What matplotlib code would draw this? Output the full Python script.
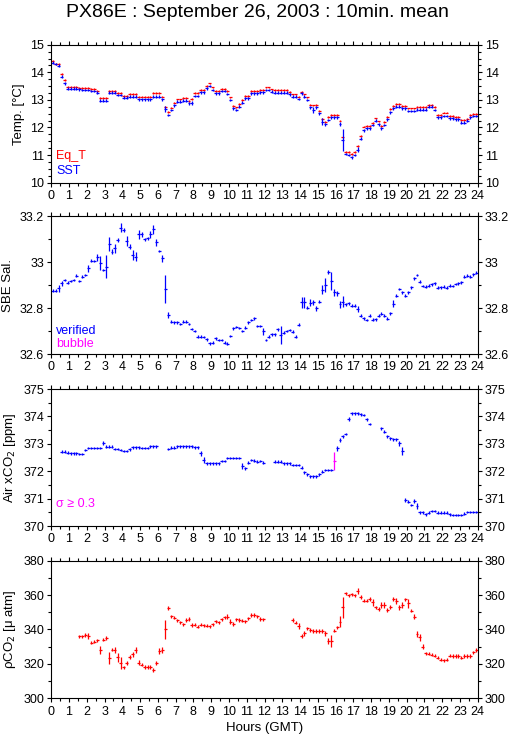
import numpy as np
import matplotlib
matplotlib.use('Agg')
import matplotlib.pyplot as plt
from matplotlib.ticker import MultipleLocator

plt.rcParams['font.family'] = ['Liberation Sans', 'DejaVu Sans']

nan = np.nan

# 10 minute bins, 6 per hour, 144 per day
sst = [
    14.35, 14.30, 14.24, 13.84, 13.60, 13.41,
    13.41, 13.41, 13.41, 13.38, 13.36, 13.36,
    13.36, 13.32, 13.32, 13.26, 12.97, 12.97,
    12.97, 13.26, 13.26, 13.26, 13.18, 13.18,
    13.08, 13.08, 13.12, 13.12, 13.12, 13.02,
    13.02, 13.02, 13.02, 13.02, 13.12, 13.12,
    13.12, 13.02, 12.67, 12.45, 12.63, 12.81,
    12.93, 12.93, 12.97, 12.97, 12.87, 12.90,
    13.14, 13.14, 13.27, 13.27, 13.42, 13.50,
    13.36, 13.24, 13.24, 13.32, 13.32, 13.21,
    13.00, 12.69, 12.63, 12.75, 12.90, 13.06,
    13.06, 13.24, 13.24, 13.24, 13.28, 13.28,
    13.36, 13.36, 13.30, 13.26, 13.26, 13.26,
    13.26, 13.26, 13.20, 13.12, 13.12, 13.03,
    13.24, 13.12, 13.00, 12.73, 12.63, 12.73,
    12.51, 12.21, 12.11, 12.27, 12.37, 12.37,
    12.37, 12.13, 11.55, 11.04, 11.00, 10.92,
    11.00, 11.20, 11.60, 11.90, 11.97, 11.97,
    12.09, 12.25, 12.11, 11.97, 12.09, 12.30,
    12.55, 12.69, 12.75, 12.75, 12.69, 12.69,
    12.60, 12.60, 12.60, 12.65, 12.65, 12.65,
    12.65, 12.75, 12.75, 12.63, 12.37, 12.37,
    12.42, 12.42, 12.33, 12.33, 12.30, 12.30,
    12.17, 12.17, 12.25, 12.37, 12.42, 12.42,
]
eq_t = [
    14.40, 14.31, 14.31, 13.95, 13.72, 13.48,
    13.48, 13.48, 13.48, 13.42, 13.42, 13.42,
    13.42, 13.39, 13.39, 13.33, 13.07, 13.07,
    13.07, 13.33, 13.33, 13.33, 13.26, 13.26,
    13.15, 13.15, 13.21, 13.21, 13.21, 13.12,
    13.12, 13.12, 13.12, 13.12, 13.24, 13.24,
    13.24, 13.12, 12.75, 12.55, 12.72, 12.90,
    13.02, 13.02, 13.06, 13.06, 12.97, 13.03,
    13.24, 13.24, 13.36, 13.36, 13.50, 13.60,
    13.45, 13.33, 13.33, 13.40, 13.40, 13.32,
    13.09, 12.79, 12.73, 12.85, 13.00, 13.15,
    13.15, 13.33, 13.33, 13.33, 13.36, 13.36,
    13.45, 13.45, 13.38, 13.36, 13.36, 13.36,
    13.36, 13.36, 13.28, 13.20, 13.20, 13.12,
    13.30, 13.20, 13.09, 12.83, 12.80, 12.82,
    12.61, 12.30, 12.20, 12.37, 12.45, 12.45,
    12.45, 12.25, 11.64, 11.12, 11.12, 11.04,
    11.10, 11.33, 11.70, 12.03, 12.06, 12.06,
    12.17, 12.33, 12.22, 12.06, 12.20, 12.38,
    12.66, 12.78, 12.85, 12.85, 12.78, 12.78,
    12.69, 12.69, 12.69, 12.75, 12.75, 12.75,
    12.75, 12.81, 12.81, 12.74, 12.45, 12.45,
    12.54, 12.54, 12.42, 12.42, 12.38, 12.38,
    12.27, 12.27, 12.32, 12.45, 12.50, 12.50,
]
sst_sd_big = {3: 0.05, 4: 0.06, 16: 0.05, 18: 0.05, 19: 0.04, 37: 0.05,
              38: 0.1, 40: 0.05, 46: 0.07, 47: 0.07, 53: 0.05, 60: 0.05,
              84: 0.06, 86: 0.05, 87: 0.06, 88: 0.1, 91: 0.12, 92: 0.06,
              97: 0.06, 98: 0.4, 103: 0.08, 104: 0.06, 109: 0.05,
              110: 0.07, 112: 0.05, 130: 0.06}

sal = [
    32.877, 32.877, 32.887, 32.909, 32.923, 32.912,
    32.919, 32.923, 32.942, 32.919, 32.938, 32.945,
    32.974, 33.007, 33.006, 33.022, 32.996, 32.967,
    32.981, 33.078, 33.046, 33.061, 33.097, 33.151,
    33.141, 33.093, 33.068, 33.032, 33.025, 33.122,
    33.122, 33.100, 33.104, 33.122, 33.143, 33.087,
    33.049, 33.017, 32.883, 32.771, 32.741, 32.739,
    32.739, 32.732, 32.742, 32.742, 32.732, 32.710,
    32.701, 32.677, 32.677, 32.675, 32.665, 32.648,
    32.650, 32.670, 32.662, 32.662, 32.651, 32.646,
    32.680, 32.713, 32.719, 32.714, 32.701, 32.716,
    32.739, 32.749, 32.757, 32.723, 32.723, 32.701,
    32.662, 32.677, 32.687, 32.687, 32.709, 32.684,
    32.694, 32.701, 32.706, 32.699, 32.677, 32.728,
    32.826, 32.826, 32.803, 32.825, 32.826, 32.800,
    32.829, 32.880, 32.901, 32.957, 32.919, 32.870,
    32.865, 32.817, 32.829, 32.817, 32.822, 32.812,
    32.812, 32.797, 32.767, 32.757, 32.749, 32.767,
    32.751, 32.752, 32.767, 32.777, 32.768, 32.754,
    32.778, 32.819, 32.855, 32.884, 32.870, 32.855,
    32.870, 32.891, 32.930, 32.945, 32.916, 32.897,
    32.894, 32.899, 32.904, 32.909, 32.890, 32.891,
    32.894, 32.890, 32.899, 32.897, 32.906, 32.909,
    32.913, 32.938, 32.942, 32.938, 32.948, 32.955,
]
sal_sd_big = {2: 0.015, 3: 0.01, 12: 0.015, 15: 0.015, 16: 0.03, 18: 0.05,
              19: 0.03, 20: 0.01, 21: 0.02, 22: 0.01, 23: 0.02, 24: 0.01,
              25: 0.02, 26: 0.01, 27: 0.02, 28: 0.02, 29: 0.02, 30: 0.01,
              33: 0.015, 34: 0.02, 35: 0.015, 37: 0.015, 38: 0.06,
              39: 0.015, 71: 0.015, 77: 0.04, 84: 0.025, 85: 0.025,
              87: 0.015, 88: 0.01, 89: 0.01, 91: 0.02, 92: 0.03, 93: 0.01,
              94: 0.04, 95: 0.015, 96: 0.01, 97: 0.015, 98: 0.025,
              103: 0.015, 115: 0.015}

xco2 = [
    nan, nan, nan, 372.71, 372.71, 372.68,
    372.65, 372.65, 372.65, 372.63, 372.63, 372.77,
    372.85, 372.85, 372.85, 372.85, 372.85, 373.02,
    372.90, 372.90, 372.90, 372.81, 372.81, 372.77,
    372.74, 372.74, 372.80, 372.87, 372.87, 372.87,
    372.85, 372.85, 372.85, 372.91, 372.91, 372.91,
    nan, nan, nan, 372.81, 372.86, 372.86,
    372.91, 372.91, 372.91, 372.91, 372.91, 372.91,
    372.87, 372.87, 372.65, 372.41, 372.29, 372.29,
    372.29, 372.29, 372.29, 372.37, 372.37, 372.48,
    372.48, 372.48, 372.48, 372.48, 372.19, 372.10,
    372.31, 372.41, 372.38, 372.35, 372.37, 372.31,
    nan, nan, nan, 372.35, 372.35, 372.35,
    372.29, 372.29, 372.29, 372.23, 372.23, 372.23,
    372.13, 371.96, 371.89, 371.81, 371.81, 371.81,
    371.89, 371.98, 372.04, 372.04, 372.04, 372.37,
    372.83, 373.14, 373.28, 373.36, 373.90, 374.11,
    374.11, 374.11, 374.08, 374.05, 373.89, 373.72,
    nan, nan, nan, 373.56, 373.44, 373.28,
    373.20, 373.16, 373.16, 373.02, 372.74, 370.95,
    370.89, 370.77, 370.92, 370.73, 370.50, 370.50,
    370.43, 370.49, 370.55, 370.55, 370.48, 370.48,
    370.48, 370.48, 370.43, 370.40, 370.40, 370.40,
    370.40, 370.45, 370.51, 370.51, 370.51, 370.51,
]
xco2_sd_big = {17: 0.08, 50: 0.08, 51: 0.1, 64: 0.12, 65: 0.05, 84: 0.06,
               95: 0.33, 96: 0.1, 97: 0.08, 98: 0.05, 100: 0.08, 106: 0.05,
               117: 0.1, 118: 0.15, 119: 0.08, 122: 0.08, 123: 0.1}

pco2 = [
    nan, nan, nan, nan, nan, nan,
    nan, nan, nan, 336.0, 336.0, 336.8,
    336.2, 332.2, 333.0, 333.7, 328.1, 334.1,
    335.3, 323.2, 328.1, 328.1, 323.8, 320.3,
    318.0, 320.3, 323.8, 325.6, 328.1, 320.7,
    319.4, 318.2, 318.2, 318.2, 316.5, 320.3,
    327.5, 328.1, 340.1, 352.7, 347.7, 346.9,
    345.3, 344.2, 343.0, 345.5, 346.1, 342.6,
    342.8, 341.6, 342.8, 342.4, 342.2, 341.8,
    343.0, 344.9, 344.2, 345.9, 347.1, 347.5,
    344.6, 343.2, 345.9, 345.5, 345.1, 344.9,
    346.5, 348.4, 348.4, 347.8, 346.1, 345.9,
    nan, nan, nan, nan, nan, nan,
    nan, nan, nan, 345.5, 344.0, 342.0,
    336.2, 337.8, 340.7, 339.7, 339.1, 339.1,
    339.1, 339.1, 337.8, 333.3, 333.3, 339.3,
    341.3, 344.6, 352.9, 361.0, 360.0, 360.4,
    360.0, 362.4, 358.7, 356.6, 356.6, 357.7,
    355.8, 352.9, 351.9, 354.2, 354.2, 351.3,
    353.3, 357.7, 356.6, 352.9, 354.2, 357.5,
    355.2, 350.8, 347.5, 337.4, 335.4, 330.0,
    326.1, 325.8, 325.2, 324.8, 323.6, 322.3,
    322.1, 322.3, 324.8, 324.6, 324.6, 324.6,
    323.6, 324.6, 324.6, 324.6, 326.7, 328.1,
]
pco2_sd_big = {11: 1.2, 12: 1.5, 16: 2.5, 18: 1.2, 19: 3.5, 21: 2, 22: 2.5,
               23: 3.5, 25: 1.2, 26: 1.2, 27: 1.5, 28: 1.5, 29: 1.5, 34: 1,
               35: 1.2, 36: 1.5, 37: 1.5, 38: 5.5, 39: 1.2, 46: 1, 59: 1.5,
               60: 1.5, 62: 1, 83: 1.5, 84: 1, 85: 1.5, 92: 1.5, 93: 1.5,
               94: 3.5, 96: 1, 97: 3, 98: 6, 103: 1.5, 104: 1.2, 108: 2,
               110: 1, 111: 1.5, 112: 1.5, 113: 1.2, 114: 1.2, 116: 1.5,
               117: 1.5, 118: 1.5, 119: 1, 120: 2.5, 122: 1.5, 123: 1.5,
               124: 2, 125: 1.5, 143: 1}


def make_sd(default, big):
    sd = np.full(144, default)
    for k, v in big.items():
        sd[k] = max(v, default)
    return sd


def draw(ax, vals, sd, color, flag=None):
    vals = np.asarray(vals, dtype=float)
    t0 = np.arange(len(vals)) / 6.0
    ok = ~np.isnan(vals)
    cols = np.array([color] * len(vals), dtype=object)
    if flag is not None:
        cols[sd >= flag] = '#ff00ff'
    ax.hlines(vals[ok], t0[ok], t0[ok] + 1 / 6.0, colors=list(cols[ok]), lw=0.9)
    ax.vlines(t0[ok] + 1 / 12.0, vals[ok] - sd[ok], vals[ok] + sd[ok],
              colors=list(cols[ok]), lw=0.9)


def style(ax, ylim, major, minor, fmt):
    ax.set_xlim(0, 24)
    ax.set_ylim(*ylim)
    ax.xaxis.set_major_locator(MultipleLocator(1))
    ax.xaxis.set_minor_locator(MultipleLocator(0.5))
    ax.yaxis.set_major_locator(MultipleLocator(major))
    ax.yaxis.set_minor_locator(MultipleLocator(minor))
    ax.yaxis.set_major_formatter(plt.FuncFormatter(lambda v, p: fmt(v)))
    ax.tick_params(which='both', direction='out', top=True, right=True,
                   labelright=True, labelsize=9, pad=2, width=0.8)
    ax.tick_params(which='major', length=3.2)
    ax.tick_params(which='minor', length=2)
    for s in ax.spines.values():
        s.set_linewidth(0.8)


fig = plt.figure(figsize=(5.15, 7.39), dpi=100)
L, W, H = 0.0996, 0.828, 0.1867
ax1 = fig.add_axes([L, 0.7528, W, H])
ax2 = fig.add_axes([L, 0.5206, W, H])
ax3 = fig.add_axes([L, 0.2882, W, 0.1854])
ax4 = fig.add_axes([L, 0.0551, W, 0.1862])

draw(ax1, eq_t, make_sd(0.03, {}), '#ff0000')
draw(ax1, sst, make_sd(0.05, sst_sd_big), '#0000ff')
style(ax1, (10, 15), 1, 0.25, lambda v: '%g' % v)
ax1.set_ylabel('Temp. [°C]', fontsize=9.5, labelpad=4)
ax1.text(0.012, 0.17, 'Eq_T', color='#ff0000', transform=ax1.transAxes, fontsize=9)
ax1.text(0.012, 0.06, 'SST', color='#0000ff', transform=ax1.transAxes, fontsize=9)

draw(ax2, sal, make_sd(0.006, sal_sd_big), '#0000ff')
style(ax2, (32.6, 33.2), 0.2, 0.1, lambda v: '%g' % round(v, 1))
ax2.set_ylabel('SBE Sal.', fontsize=9.5, labelpad=4)
ax2.text(0.012, 0.15, 'verified', color='#0000ff', transform=ax2.transAxes, fontsize=9)
ax2.text(0.012, 0.05, 'bubble', color='#ff00ff', transform=ax2.transAxes, fontsize=9)

draw(ax3, xco2, make_sd(0.05, xco2_sd_big), '#0000ff', flag=0.3)
style(ax3, (370, 375), 1, 0.5, lambda v: '%g' % v)
ax3.set_ylabel('Air xCO$_2$ [ppm]', fontsize=9.5, labelpad=4)
ax3.text(0.012, 0.14, 'σ ≥ 0.3', color='#ff00ff', transform=ax3.transAxes, fontsize=9)

draw(ax4, pco2, make_sd(0.9, pco2_sd_big), '#ff0000')
style(ax4, (300, 380), 20, 10, lambda v: '%g' % v)
ax4.set_ylabel('ρCO$_2$ [μ atm]', fontsize=9.5, labelpad=4)
ax4.set_xlabel('Hours (GMT)', fontsize=9.5, labelpad=3)

fig.suptitle('PX86E : September 26, 2003 : 10min. mean', fontsize=14, y=0.995)

fig.savefig('out.png', dpi=100)
